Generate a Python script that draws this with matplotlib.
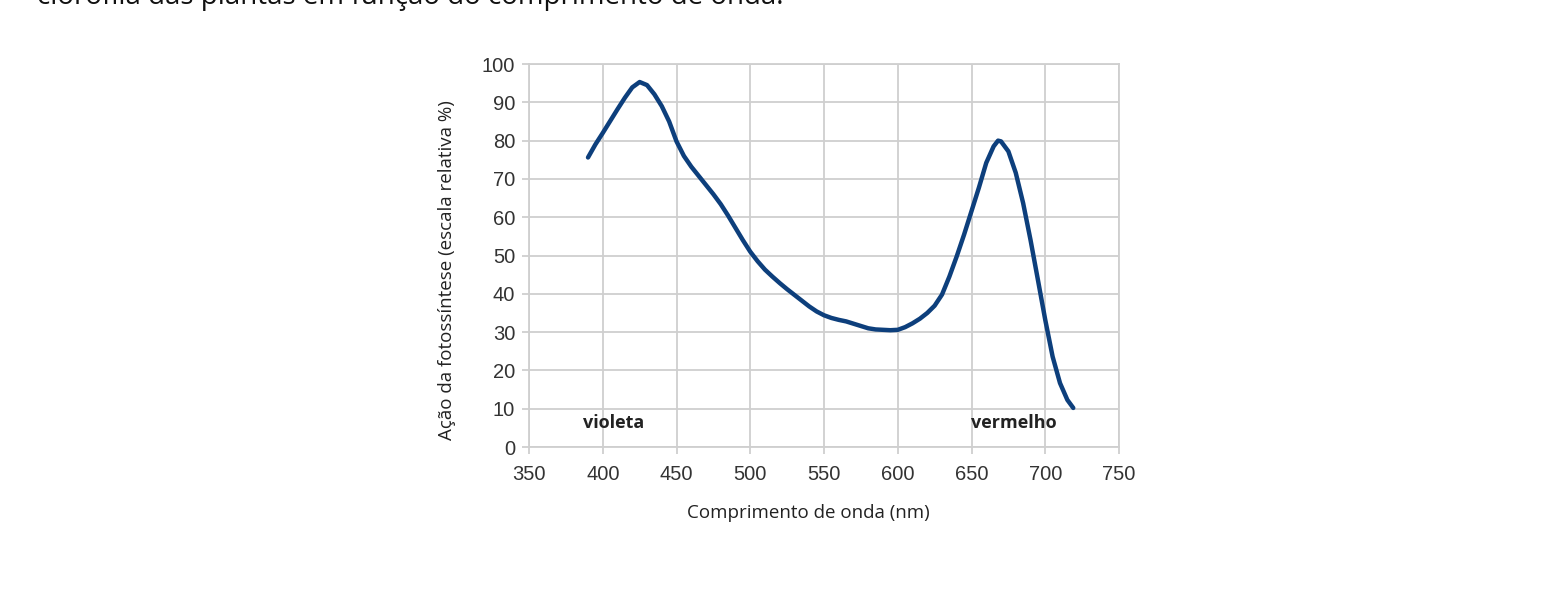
import numpy as np
import matplotlib.pyplot as plt

# dados (espectro de ação da fotossíntese), de 5 em 5 nm
comprimento = [390, 395, 400, 405, 410, 415, 420, 425, 430, 435, 440, 445, 450,
               455, 460, 465, 470, 475, 480, 485, 490, 495, 500, 505, 510, 515,
               520, 525, 530, 535, 540, 545, 550, 555, 560, 565, 570, 575, 580,
               585, 590, 595, 600, 605, 610, 615, 620, 625, 630, 635, 640, 645,
               650, 655, 660, 665, 668, 670, 675, 680, 685, 690, 695, 700, 705,
               710, 715, 719]
acao = [75.6, 79, 82, 85.1, 88.2, 91.2, 93.9, 95.3, 94.5, 92.1, 89, 85, 79.8,
        76, 73.2, 70.8, 68.4, 66, 63.4, 60.4, 57.2, 54, 51, 48.5, 46.3, 44.5,
        42.8, 41.2, 39.7, 38.2, 36.7, 35.4, 34.4, 33.7, 33.2, 32.8, 32.2, 31.6, 31.0,
        30.7, 30.6, 30.5, 30.6, 31.3, 32.3, 33.5, 35, 36.9, 39.8, 44.5, 49.8, 55.5,
        61.6, 67.7, 74.2, 78.5, 80, 79.8, 77.2, 71.6, 63.7, 54.1, 43.7, 33.2, 23.6,
        16.7, 12.3, 10.2]

rotulos = ["violeta", "vermelho"]
rotulos_x = [407.5, 679]
rotulos_y = [6.2, 6.2]

x_ticks = list(range(350, 751, 50))
y_ticks = list(range(0, 101, 10))

fig = plt.figure(figsize=(15.67, 5.95), dpi=100)
ax = fig.add_axes([0.3376, 0.2487, 0.3765, 0.6437])

ax.plot(comprimento, acao, color="#0d3f7c", linewidth=3.2,
        solid_capstyle="round", solid_joinstyle="round")

ax.set_xlim(350, 750)
ax.set_ylim(0, 100)
ax.set_xticks(x_ticks)
ax.set_yticks(y_ticks)
ax.grid(True, color="#cfcfcf", linewidth=1.3)
ax.set_axisbelow(True)
for s in ax.spines.values():
    s.set_color("#cfcfcf")
    s.set_linewidth(1.3)
ax.tick_params(length=5, width=1.3, color="#cfcfcf", labelsize=14.5,
               labelcolor="#333333")
ax.tick_params(axis="x", pad=8)
ax.tick_params(axis="y", pad=5)
for lab in ax.get_xticklabels() + ax.get_yticklabels():
    lab.set_family("Liberation Sans")

for t, tx, ty in zip(rotulos, rotulos_x, rotulos_y):
    ax.text(tx, ty, t, ha="center", va="center", fontsize=13, fontweight="bold",
            family="Open Sans", color="#222222")

ax.set_xlabel("Comprimento de onda (nm)", fontsize=13.5, family="Open Sans",
              color="#222222")
ax.xaxis.set_label_coords((808 - 529) / 590, -(513 - 447) / 383)
ax.xaxis.label.set_va("center")
ax.set_ylabel("Ação da fotossíntese (escala relativa %)", fontsize=13.5,
              family="Open Sans", color="#222222")
ax.yaxis.set_label_coords(-(529 - 447) / 590, (447 - 270) / 383)
ax.yaxis.label.set_va("center")

# texto do enunciado cortado no topo
fig.text(37 / 1567, 1.0 - 4 / 595, "clorofila das plantas em função do comprimento de onda.",
         ha="left", va="baseline", fontsize=20, family="Open Sans", color="#111111")

fig.savefig("out.png", dpi=100)
